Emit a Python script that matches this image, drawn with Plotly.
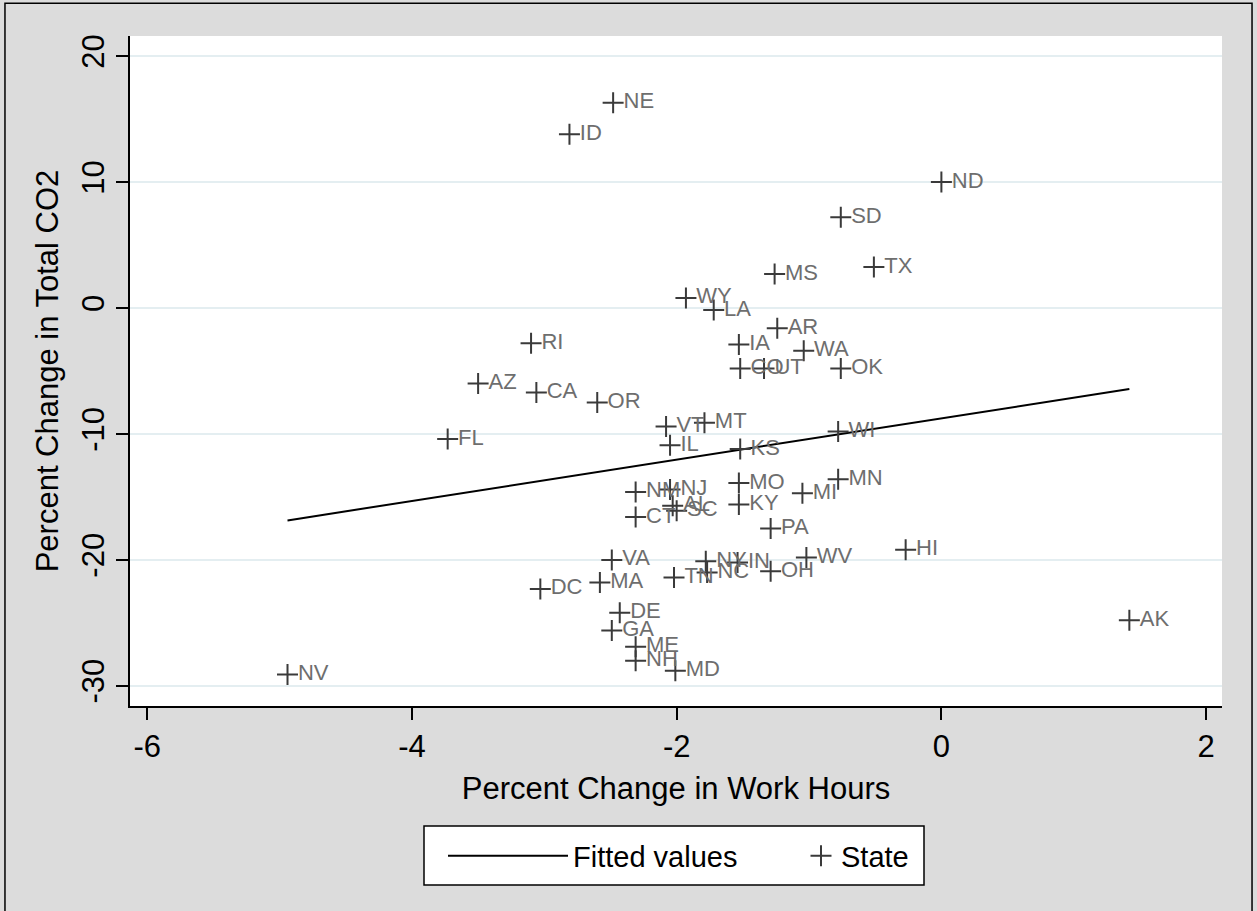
import numpy as np
import plotly.graph_objects as go

states = ["NE","ID","ND","SD","TX","MS","WY","LA","AR","RI","IA","WA","CO","UT","OK",
          "AZ","CA","OR","VT","MT","FL","IL","KS","WI","MN","MO","MI","NM","NJ","AL","SC",
          "KY","CT","PA","HI","VA","WV","NY","IN","NC","OH","TN","MA","DC","DE","GA",
          "ME","NH","MD","NV","AK"]
work_hours = [-2.48,-2.81,0.00,-0.76,-0.51,-1.26,-1.93,-1.72,-1.24,-3.10,-1.53,-1.04,-1.52,-1.34,-0.76,
              -3.50,-3.06,-2.60,-2.08,-1.79,-3.73,-2.05,-1.52,-0.78,-0.78,-1.53,-1.05,-2.31,-2.05,-2.03,-2.00,
              -1.53,-2.31,-1.29,-0.27,-2.49,-1.02,-1.78,-1.54,-1.77,-1.29,-2.02,-2.58,-3.03,-2.43,-2.49,
              -2.31,-2.31,-2.01,-4.94,1.42]
co2_change = [16.3,13.8,10.0,7.2,3.25,2.7,0.8,-0.16,-1.6,-2.8,-2.9,-3.4,-4.8,-4.8,-4.8,
              -6.0,-6.7,-7.5,-9.4,-9.1,-10.4,-10.9,-11.2,-9.8,-13.6,-13.9,-14.7,-14.6,-14.4,-15.7,-16.1,
              -15.6,-16.6,-17.5,-19.2,-20.0,-19.8,-20.1,-20.2,-21.0,-20.9,-21.4,-21.8,-22.3,-24.2,-25.6,
              -26.9,-28.0,-28.8,-29.1,-24.8]

x_ticks = [-6, -4, -2, 0, 2]
y_ticks = [-30, -20, -10, 0, 10, 20]

xa = np.array(work_hours)
ya = np.array(co2_change)
b, a = np.polyfit(xa, ya, 1)
fit_x = np.array([xa.min(), xa.max()])
fit_y = a + b * fit_x

FONT = "Liberation Sans"

fig = go.Figure()
fig.add_trace(go.Scatter(
    x=fit_x, y=fit_y, mode="lines", name="Fitted values", legend="legend",
    line=dict(color="black", width=2),
))
fig.add_trace(go.Scatter(
    x=work_hours, y=co2_change, mode="markers+text", name="State", legend="legend2",
    text=states, textposition="middle right",
    textfont=dict(family=FONT, size=22, color="#6e6e6e"),
    marker=dict(symbol="cross-thin", size=15, color="#3a3a3a",
                line=dict(color="#3a3a3a", width=2)),
))

legend_y = (706 - 856) / 670

fig.update_layout(
    width=1257, height=911,
    margin=dict(l=130, r=35, t=36, b=205),
    paper_bgcolor="#dcdcdc",
    plot_bgcolor="white",
    font=dict(family=FONT, size=24, color="black"),
    showlegend=True,
    legend=dict(
        x=(443 - 130) / 1092, xanchor="left", y=legend_y, yanchor="middle",
        bgcolor="rgba(0,0,0,0)", borderwidth=0,
        font=dict(family=FONT, size=29, color="black"),
        itemwidth=120,
    ),
    legend2=dict(
        x=(801 - 130) / 1092, xanchor="left", y=legend_y, yanchor="middle",
        bgcolor="rgba(0,0,0,0)", borderwidth=0,
        font=dict(family=FONT, size=29, color="black"),
        itemwidth=30,
    ),
    xaxis=dict(
        range=[-6.13, 2.12], tickvals=x_ticks, ticktext=[str(v) for v in x_ticks],
        showgrid=False, zeroline=False,
        showline=True, linecolor="black", linewidth=1.5,
        ticks="outside", ticklen=12, tickcolor="black", tickwidth=1.5,
        tickfont=dict(family=FONT, size=31),
        title=dict(text="Percent Change in Work Hours", font=dict(family=FONT, size=31), standoff=14),
    ),
    yaxis=dict(
        range=[-31.6, 21.6], tickvals=y_ticks, ticktext=[str(v) for v in y_ticks],
        tickangle=-90,
        showgrid=True, gridcolor="#e4eef1", gridwidth=2, zeroline=False,
        showline=True, linecolor="black", linewidth=1.5,
        ticks="outside", ticklen=12, tickcolor="black", tickwidth=1.5,
        tickfont=dict(family=FONT, size=31),
        title=dict(text="Percent Change in Total CO2", font=dict(family=FONT, size=31), standoff=8),
    ),
    shapes=[
        dict(type="rect", xref="paper", yref="paper",
             x0=-0.1145, x1=1.0275, y0=-0.32, y1=1.049,
             line=dict(color="black", width=1.5), fillcolor="rgba(0,0,0,0)", layer="below"),
        dict(type="rect", xref="paper", yref="paper",
             x0=(424 - 130) / 1092, x1=(924 - 130) / 1092,
             y0=(706 - 885) / 670, y1=(706 - 826) / 670,
             line=dict(color="black", width=1.5), fillcolor="white", layer="below"),
    ],
)

fig.write_html("out.html", config={"displayModeBar": False},
               post_script="document.body.style.margin='0';document.documentElement.style.overflow='hidden';")
